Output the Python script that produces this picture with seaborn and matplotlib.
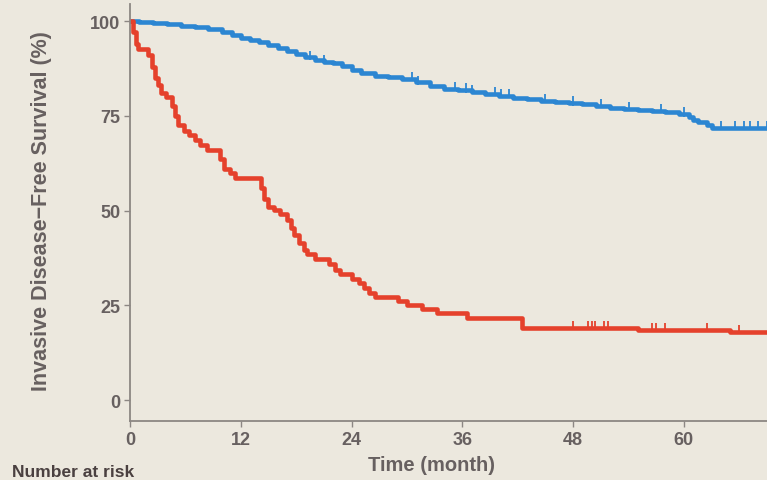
import numpy as np
import pandas as pd
import matplotlib
matplotlib.use("Agg")
import matplotlib.pyplot as plt
import seaborn as sns

# ---- data ----
red_time = [0, 0.3, 0.6, 0.9, 2.0, 2.4, 2.7, 3.0, 3.4, 3.9, 4.6, 4.9, 5.2, 5.8, 6.4,
            7.0, 7.6, 8.3, 9.8, 10.2, 10.8, 11.4, 14.2, 14.5, 14.9, 15.6, 16.3, 17.0,
            17.4, 17.8, 18.3, 18.8, 19.2, 20.0, 21.6, 22.2, 22.7, 24.1, 24.8, 25.3,
            25.9, 26.5, 29.0, 30.0, 31.6, 33.3, 36.5, 42.5, 55.0, 65.0, 70.0]
red_surv = [100, 97, 94, 92.5, 91, 88, 85, 83, 81, 80, 77.5, 75, 72.5, 71, 70,
            68.5, 67.3, 66, 63.5, 61, 60, 58.5, 56, 53, 51, 50.2, 49, 47.5,
            45.5, 43.5, 41.5, 39.5, 38.5, 37.2, 35.8, 34.2, 33.2, 32, 30.8, 29.5,
            28.2, 27.2, 26.2, 25.0, 24.0, 23.0, 21.6, 19.0, 18.5, 18.0, 18.0]

blue_time = [0, 1, 2.5, 4, 5.5, 7, 8.5, 10, 11, 12, 13, 14, 15, 16, 17, 18, 19, 20,
             21, 22, 23, 24, 25, 26.5, 28, 29.5, 31, 32.5, 34, 35.5, 37, 38.5, 40,
             41.5, 43, 44.5, 46, 47.5, 49, 50.5, 52, 53.5, 55, 56.5, 58, 59.5, 60.5,
             61, 61.5, 62.5, 63, 66, 70]
blue_surv = [100, 99.7, 99.4, 99.1, 98.8, 98.4, 97.8, 97.0, 96.3, 95.6, 95.0, 94.4,
             93.7, 92.9, 92.1, 91.3, 90.4, 89.8, 89.2, 88.8, 88.2, 87.2, 86.2, 85.6,
             85.2, 84.8, 83.8, 82.8, 82.2, 81.7, 81.3, 80.8, 80.2, 79.7, 79.3, 78.9,
             78.6, 78.3, 78.0, 77.6, 77.1, 76.8, 76.5, 76.3, 76.0, 75.4, 74.8, 74.0,
             73.3, 72.6, 71.9, 71.8, 71.7]

red_censor = [48.0, 49.6, 50.0, 50.4, 51.3, 51.8, 56.5, 57.0, 58.0, 62.5, 66.0]
blue_censor = [19.5, 21.0, 30.5, 31.2, 35.2, 36.4, 37.0, 39.5, 40.2, 41.0, 45.0,
               48.0, 51.0, 54.0, 57.5, 60.0, 64.0, 65.5, 66.5, 67.2, 68.0, 69.0]

x_ticks = [0, 12, 24, 36, 48, 60]
y_ticks = [0, 25, 50, 75, 100]
x_label = "Time (month)"
y_label = "Invasive Disease\u2212Free Survival (%)"
risk_title = "Number at risk"

RED = "#E5412C"
BLUE = "#2C86D2"
BG = "#ECE8DE"
TXT = "#676060"


def step_value(times, vals, t):
    idx = np.searchsorted(times, t, side="right") - 1
    return vals[idx]


curves = pd.concat([
    pd.DataFrame({"time": blue_time, "surv": blue_surv, "group": "blue"}),
    pd.DataFrame({"time": red_time, "surv": red_surv, "group": "red"}),
])
censors = pd.concat([
    pd.DataFrame({"time": blue_censor,
                  "surv": [step_value(blue_time, blue_surv, t) + 0.6 for t in blue_censor],
                  "group": "blue"}),
    pd.DataFrame({"time": red_censor,
                  "surv": [step_value(red_time, red_surv, t) + 0.6 for t in red_censor],
                  "group": "red"}),
])

sns.set_style("ticks")
plt.rcParams["font.family"] = ["Liberation Sans", "DejaVu Sans"]

fig = plt.figure(figsize=(7.67, 4.81), dpi=100)
fig.patch.set_facecolor(BG)
ax = fig.add_axes([130 / 767, 59 / 481, 637 / 767, 417 / 481])
ax.set_facecolor(BG)

pal = {"blue": BLUE, "red": RED}
sns.lineplot(data=curves, x="time", y="surv", hue="group", palette=pal,
             estimator=None, drawstyle="steps-post", linewidth=3.3,
             legend=False, ax=ax)
sns.scatterplot(data=censors, x="time", y="surv", hue="group", palette=pal,
                marker="|", s=45, linewidth=1.3, legend=False, ax=ax)

ax.set_xlim(0, 69.0)
ax.set_ylim(-5.54, 104.5)
ax.set_xticks(x_ticks)
ax.set_yticks(y_ticks)
for s in ["top", "right"]:
    ax.spines[s].set_visible(False)
for s in ["left", "bottom"]:
    ax.spines[s].set_color("#8c8783")
    ax.spines[s].set_linewidth(1.3)
ax.tick_params(axis="both", colors="#8c8783", length=4, width=1.0,
               labelcolor=TXT, labelsize=13, pad=3)
for lab in ax.get_xticklabels() + ax.get_yticklabels():
    lab.set_fontweight("bold")

ax.set_xlabel(x_label, fontsize=14.5, fontweight="bold", color=TXT)
ax.xaxis.set_label_coords((432 - 130) / 637, -(466 - 422) / 417)
ax.xaxis.label.set_va("center")
ax.set_ylabel(y_label, fontsize=15.5, fontweight="bold", color=TXT)
ax.yaxis.set_label_coords(-(130 - 42) / 637, (422 - 211) / 417)
ax.yaxis.label.set_va("center")

fig.text(12 / 767, 1 - 480 / 481, risk_title, fontsize=12.5,
         fontweight="bold", color="#4a4040", ha="left", va="bottom")

fig.savefig("out.png", dpi=100, facecolor=BG)
